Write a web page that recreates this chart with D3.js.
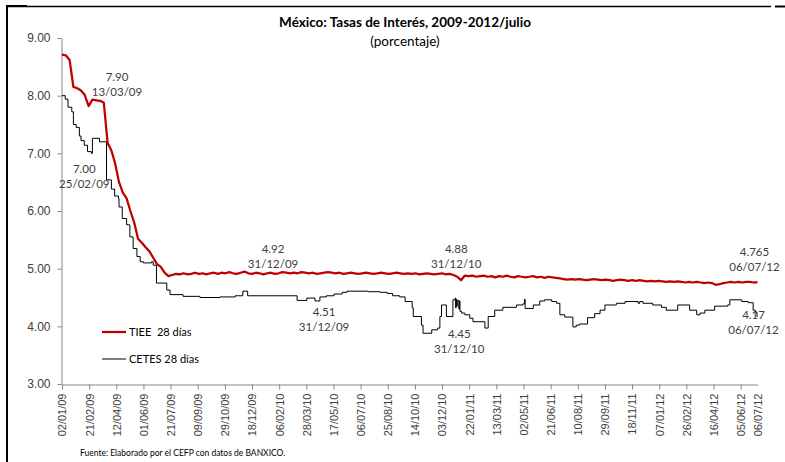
<!DOCTYPE html>
<html>
<head>
<meta charset="utf-8">
<script src="https://cdn.jsdelivr.net/npm/d3@7.9.0/dist/d3.min.js"></script>
<style>
  body { margin: 0; background: #fff; }
  svg { display: block; font-family: Lato, "Open Sans", sans-serif; }
  .axis path, .axis line { stroke: #868686; }
  .axis text { fill: #404040; }
  .note { fill: #404040; font-size: 11.5px; text-anchor: middle; }
</style>
</head>
<body>
<svg id="chart" width="785" height="462"></svg>
<script>
// TIEE 28 dias, weekly readings starting 02/01/09
const tieeStart = "2009-01-02";
const tieeValues = [
  8.71, 8.70, 8.62, 8.15, 8.13, 8.09, 8.01, 7.82, 7.93, 7.92,
  7.91, 7.88, 7.18, 7.05, 6.82, 6.50, 6.32, 6.22, 6.00, 5.80,
  5.52, 5.45, 5.37, 5.30, 5.19, 5.08, 5.03, 4.93, 4.87,
  4.89, 4.91, 4.90, 4.92, 4.90, 4.91, 4.93, 4.91, 4.92, 4.90, 4.92, 4.93,
  4.91, 4.93, 4.92, 4.94, 4.92, 4.91, 4.93, 4.95, 4.92, 4.91,
  4.93, 4.92, 4.90, 4.92, 4.93, 4.91, 4.92, 4.94, 4.93, 4.92,
  4.93, 4.92, 4.94, 4.93, 4.92, 4.93, 4.91, 4.92, 4.93, 4.94,
  4.93, 4.92, 4.93, 4.91, 4.92, 4.93, 4.92, 4.91, 4.92, 4.93,
  4.92, 4.91, 4.92, 4.93, 4.92, 4.91, 4.92, 4.93, 4.92, 4.91,
  4.92, 4.91, 4.92, 4.90, 4.91, 4.92, 4.91, 4.90, 4.91, 4.92,
  4.90, 4.91, 4.89,
  4.86, 4.80, 4.88,
  4.87, 4.88, 4.86, 4.87, 4.88, 4.86, 4.87, 4.85, 4.87, 4.86,
  4.88, 4.86, 4.85, 4.87, 4.86, 4.85, 4.86, 4.87, 4.85, 4.86,
  4.84, 4.86, 4.85, 4.84, 4.83, 4.82, 4.81, 4.82, 4.81, 4.82,
  4.81, 4.80, 4.81, 4.82,
  4.81, 4.80, 4.81, 4.80, 4.79, 4.80, 4.81, 4.80, 4.79, 4.80,
  4.79, 4.80, 4.79, 4.78, 4.79, 4.78, 4.79, 4.78, 4.77, 4.78,
  4.77, 4.78, 4.77, 4.76, 4.77,
  4.76, 4.77, 4.76, 4.75, 4.76, 4.75, 4.72, 4.73, 4.75, 4.76,
  4.77, 4.76, 4.77, 4.76, 4.77, 4.77, 4.76, 4.765
];

// CETES 28 dias, value changes (step after)
const cetesDates = [
  "2009-01-02", "2009-01-08", "2009-01-13", "2009-01-20", "2009-01-23", "2009-01-28",
  "2009-02-03", "2009-02-06", "2009-02-12", "2009-02-18", "2009-02-25", "2009-02-27",
  "2009-03-12", "2009-03-25", "2009-04-03", "2009-04-09", "2009-04-16", "2009-04-17",
  "2009-04-23", "2009-05-01", "2009-05-07", "2009-05-13", "2009-05-20", "2009-05-26",
  "2009-06-01", "2009-06-16", "2009-06-19", "2009-06-25", "2009-07-14", "2009-07-20",
  "2009-08-13", "2009-09-13", "2009-10-20", "2009-11-17", "2009-12-01", "2009-12-10",
  "2010-03-11", "2010-03-29", "2010-04-13", "2010-04-22", "2010-05-04", "2010-05-18",
  "2010-06-02", "2010-06-11", "2010-07-20", "2010-08-11", "2010-08-24", "2010-09-03",
  "2010-09-16", "2010-09-26", "2010-10-09", "2010-10-11", "2010-10-26", "2010-10-29",
  "2010-11-14", "2010-11-25", "2010-11-29", "2010-12-02", "2010-12-11", "2010-12-23",
  "2010-12-27", "2010-12-28", "2010-12-29", "2010-12-30", "2010-12-31", "2011-01-03",
  "2011-01-04", "2011-01-05", "2011-01-08", "2011-01-14", "2011-01-23", "2011-01-29",
  "2011-02-20", "2011-02-26", "2011-03-10", "2011-03-25", "2011-04-19", "2011-05-01",
  "2011-05-04", "2011-05-05", "2011-05-20", "2011-06-01", "2011-06-10", "2011-06-23",
  "2011-07-02", "2011-07-08", "2011-07-17", "2011-08-01", "2011-08-07", "2011-08-13",
  "2011-08-28", "2011-09-10", "2011-09-20", "2011-09-29", "2011-10-20", "2011-11-05",
  "2011-11-29", "2011-12-02", "2011-12-08", "2011-12-26", "2012-01-11", "2012-01-20",
  "2012-02-10", "2012-03-03", "2012-03-16", "2012-03-22", "2012-03-31", "2012-04-18",
  "2012-05-12", "2012-05-16", "2012-06-07", "2012-06-19", "2012-06-28", "2012-07-02",
  "2012-07-05", "2012-07-06"
];
const cetesValues = [
  8.00, 7.94, 7.80, 7.72, 7.50, 7.45,
  7.30, 7.22, 7.14, 7.03, 7.00, 7.26,
  7.20, 6.54, 6.38, 6.26, 6.22, 6.07,
  5.87, 5.76, 5.55, 5.35, 5.21, 5.12,
  5.10, 5.12, 5.06, 4.75, 4.63, 4.55,
  4.52, 4.50, 4.51, 4.53, 4.61, 4.53,
  4.45, 4.49, 4.44, 4.51, 4.53, 4.56,
  4.59, 4.61, 4.60, 4.59, 4.57, 4.53,
  4.51, 4.43, 4.32, 4.17, 4.02, 3.88,
  3.94, 3.97, 4.17, 4.37, 4.17, 4.46,
  4.49, 4.32, 4.47, 4.35, 4.45, 4.30,
  4.44, 4.26, 4.23, 4.20, 4.14, 4.08,
  3.97, 4.17, 4.28, 4.33, 4.37, 4.39,
  4.47, 4.31, 4.37, 4.44, 4.46, 4.43,
  4.40, 4.20, 4.16, 3.99, 4.02, 4.04,
  4.15, 4.22, 4.28, 4.37, 4.40, 4.43,
  4.40, 4.43, 4.40, 4.37, 4.33, 4.28,
  4.37, 4.28, 4.20, 4.23, 4.28, 4.35,
  4.37, 4.46, 4.43, 4.41, 4.28, 4.25,
  4.17, 4.17
];

const yTicks = [3, 4, 5, 6, 7, 8, 9];
const tickStepDays = 50;
const startDate = "2009-01-02";
const endDate = "2012-07-06";

// labelled points
const noteDates = ["2009-03-13", "2009-02-25", "2009-12-31", "2009-12-31", "2010-12-31", "2010-12-31", "2012-07-06", "2012-07-06"];
const noteValues = [7.90, 7.00, 4.92, 4.51, 4.88, 4.45, 4.765, 4.17];
const noteTexts = ["7.90", "7.00", "4.92", "4.51", "4.88", "4.45", "4.765", "4.17"];
const noteDateTexts = ["13/03/09", "25/02/09", "31/12/09", "31/12/09", "31/12/10", "31/12/10", "06/07/12", "06/07/12"];
// label offsets from the point (px)
const noteOffsets = [[17, -24], [-7, 16], [14, -24], [65, 15], [-1, -27], [2, 34], [-3, -30], [-4, -2]];

const parse = d3.timeParse("%Y-%m-%d");
const fmt = d3.timeFormat("%d/%m/%y");

const svg = d3.select("#chart");

// frame lines from the document
svg.append("line").attr("x1", 7).attr("x2", 7).attr("y1", 5).attr("y2", 462)
  .attr("stroke", "#000").attr("stroke-width", 2);
svg.append("line").attr("x1", 7).attr("x2", 771).attr("y1", 6.5).attr("y2", 6.5)
  .attr("stroke", "#000").attr("stroke-width", 1.3);
svg.append("line").attr("x1", 7).attr("x2", 27).attr("y1", 6).attr("y2", 6)
  .attr("stroke", "#000").attr("stroke-width", 2);
svg.append("line").attr("x1", 775).attr("x2", 785).attr("y1", 6.5).attr("y2", 6.5)
  .attr("stroke", "#000").attr("stroke-width", 2);

const x = d3.scaleTime()
  .domain([parse(startDate), parse(endDate)])
  .range([62, 757.5]);
const y = d3.scaleLinear().domain([3, 9]).range([384, 38]);

// y axis
const yAxis = svg.append("g").attr("class", "axis")
  .attr("transform", "translate(61.5,0)")
  .call(d3.axisLeft(y).tickValues(yTicks).tickFormat(d3.format(".2f")).tickSize(4).tickSizeOuter(0));
yAxis.selectAll("text").attr("x", -11).style("font-size", "12px");

// x axis
const xTickValues = d3.timeDay.range(parse(startDate), parse(endDate), tickStepDays);
xTickValues.push(parse(endDate));
const xAxis = svg.append("g").attr("class", "axis")
  .attr("transform", "translate(0,384.5)")
  .call(d3.axisBottom(x).tickValues(xTickValues).tickFormat(fmt).tickSize(5).tickSizeOuter(0));
xAxis.selectAll("text")
  .attr("transform", "rotate(-90)")
  .attr("x", -9).attr("y", 0).attr("dy", "0.35em")
  .style("text-anchor", "end")
  .style("font-size", "11px");
xAxis.selectAll(".tick").filter((d, i) => i === xTickValues.length - 1).select("line").remove();

// series
const tieeData = tieeValues.map((v, i) => ({ date: d3.timeDay.offset(parse(tieeStart), 7 * i), value: v }));
const cetesData = cetesDates.map((d, i) => ({ date: parse(d), value: cetesValues[i] }));

svg.append("path")
  .datum(cetesData)
  .attr("fill", "none")
  .attr("stroke", "#000")
  .attr("stroke-width", 1)
  .attr("d", d3.line().curve(d3.curveStepAfter).x(d => x(d.date)).y(d => y(d.value)));

svg.append("path")
  .datum(tieeData)
  .attr("fill", "none")
  .attr("stroke", "#c00000")
  .attr("stroke-width", 2.25)
  .attr("stroke-linejoin", "round")
  .attr("d", d3.line().x(d => x(d.date)).y(d => y(d.value)));

// titles
svg.append("text").attr("x", 405).attr("y", 27).attr("text-anchor", "middle")
  .style("font-size", "13.5px").style("font-weight", "bold").attr("fill", "#000")
  .text("México: Tasas de Interés, 2009-2012/julio");
svg.append("text").attr("x", 405).attr("y", 46).attr("text-anchor", "middle")
  .style("font-size", "13.5px").attr("fill", "#000")
  .text("(porcentaje)");

// notes
noteTexts.forEach((t, i) => {
  const px = x(parse(noteDates[i])) + noteOffsets[i][0];
  const py = y(noteValues[i]) + noteOffsets[i][1];
  svg.append("text").attr("class", "note").attr("x", px).attr("y", py).attr("dy", "0.35em").text(t);
  svg.append("text").attr("class", "note").attr("x", px).attr("y", py + 15).attr("dy", "0.35em").text(noteDateTexts[i]);
});

// legend
const legendNames = ["TIEE  28 días", "CETES 28 días"];
const legendColors = ["#c00000", "#000"];
const legendWidths = [2.25, 1];
legendNames.forEach((name, i) => {
  const ly = 332 + i * 27;
  svg.append("line").attr("x1", 102).attr("x2", 126).attr("y1", ly).attr("y2", ly)
    .attr("stroke", legendColors[i]).attr("stroke-width", legendWidths[i]);
  svg.append("text").attr("x", 129).attr("y", ly).attr("dy", "0.35em")
    .style("font-size", "11px").style("white-space", "pre").attr("xml:space", "preserve")
    .attr("fill", "#000").text(name);
});

// source
svg.append("text").attr("x", 80).attr("y", 456)
  .style("font-size", "8.5px").attr("fill", "#000")
  .text("Fuente: Elaborado por el CEFP con datos de BANXICO.");
</script>
</body>
</html>
